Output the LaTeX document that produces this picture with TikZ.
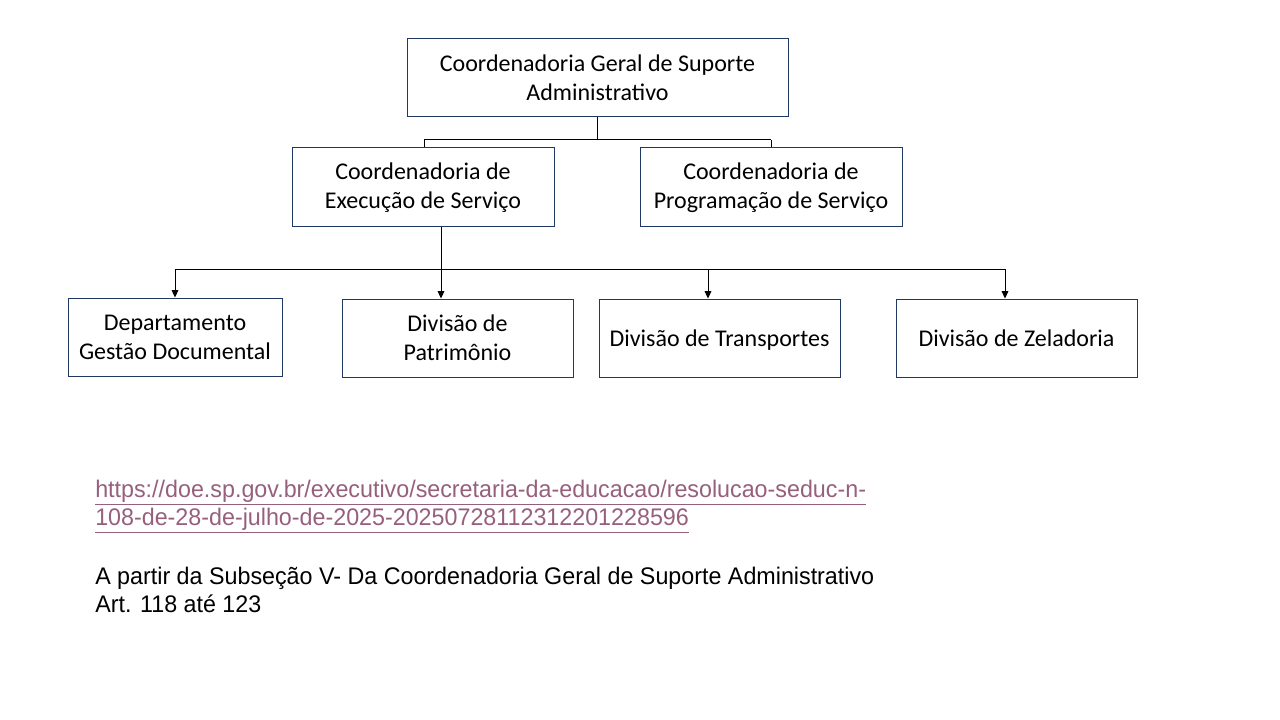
\documentclass[tikz,border=0pt]{standalone}
\usepackage{fontspec}
\setmainfont{Carlito}
\newfontfamily\notefont{Liberation Sans}[FakeStretch=0.97]
\usetikzlibrary{arrows.meta}
\definecolor{boxline}{HTML}{1F3864}
\definecolor{linkcol}{HTML}{96607D}
\tikzset{
  orgbox/.style={draw=boxline, line width=0.75pt, align=center, inner sep=0pt,
    font=\fontsize{18}{21.75}\selectfont, text=black},
  conn/.style={line width=0.75pt, black},
  arr/.style={conn, -{Triangle[length=5.5pt,width=5pt]}},
  notetxt/.style={anchor=base west, inner sep=0pt, font=\notefont\fontsize{18}{21}\selectfont}
}
\begin{document}
\begin{tikzpicture}[x=0.75pt,y=-0.75pt]
\useasboundingbox (0,0) rectangle (1280,720);
% boxes
\node[orgbox, minimum width=381*0.75pt, minimum height=78*0.75pt] (top) at (597.5,78) {Coordenadoria Geral de Suporte\\Administrativo};
\node[orgbox, minimum width=262*0.75pt, minimum height=79*0.75pt] (ces) at (423,187.5) {Coordenadoria de\\Execução de Serviço};
\node[orgbox, minimum width=262*0.75pt, minimum height=79*0.75pt] (cps) at (771,187.5) {Coordenadoria de\\Programação de Serviço};
\node[orgbox, minimum width=214*0.75pt, minimum height=78*0.75pt] (dgd) at (175,337) {Departamento\\Gestão Documental};
\node[orgbox, minimum width=231*0.75pt, minimum height=78*0.75pt] (dp) at (457.5,338) {Divisão de\\Patrimônio};
\node[orgbox, minimum width=241*0.75pt, minimum height=78*0.75pt, text depth=0pt] (dt) at (719.5,338) {Divisão de Transportes};
\node[orgbox, minimum width=241*0.75pt, minimum height=78*0.75pt] (dz) at (1016.5,338) {Divisão de Zeladoria};
% top connectors
\coordinate (j1) at (597.5,140);
\coordinate (j1l) at (424,140);
\coordinate (j1r) at (771,140);
\draw[conn] (top.south) -- (j1);
\draw[conn] (j1l) -- (j1r);
\draw[conn] (j1l) -- (j1l |- ces.north);
\draw[conn] (j1r) -- (cps.north);
% lower connectors
\coordinate (j2) at (441,269);
\coordinate (a1) at (175,269);
\coordinate (a3) at (708,269);
\coordinate (a4) at (1005,269);
\draw[conn] (j2 |- ces.south) -- (j2);
\draw[conn] (a1) -- (a4);
\draw[arr] (a1) -- (dgd.north);
\draw[arr] (j2) -- (j2 |- dp.north);
\draw[arr] (a3) -- (a3 |- dt.north);
\draw[arr] (a4) -- (a4 |- dz.north);
% notes
\node[notetxt, text=linkcol] (l1) at (95,497) {\underline{https://doe.sp.gov.br/executivo/secretaria-da-educacao/resolucao-seduc-n-}};
\node[notetxt, text=linkcol] (l2) at (95,525) {\underline{108-de-28-de-julho-de-2025-20250728112312201228596}};
\node[notetxt] (l3) at (95,584) {A partir da Subseção V- Da Coordenadoria Geral de Suporte Administrativo};
\node[notetxt] (l4) at (95,612) {Art. 118 até 123};
\end{tikzpicture}
\end{document}
